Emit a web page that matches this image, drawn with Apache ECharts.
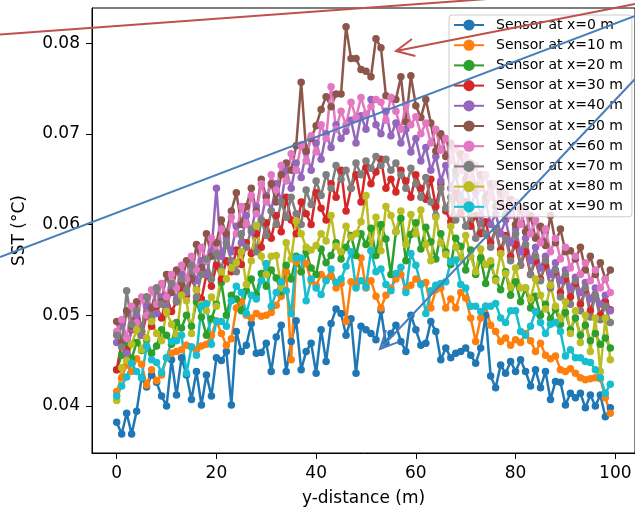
<!DOCTYPE html>
<html>
<head>
<meta charset="utf-8">
<script src="https://cdn.jsdelivr.net/npm/echarts@6/dist/echarts.min.js"></script>
<style>html,body{margin:0;padding:0;background:#fff}#c{width:635px;height:512px}</style>
</head>
<body>
<div id="c"></div>
<script>
const yDistance = [0,1,2,3,4,5,6,7,8,9,10,11,12,13,14,15,16,17,18,19,20,21,22,23,24,25,26,27,28,29,30,31,32,33,34,35,36,37,38,39,40,41,42,43,44,45,46,47,48,49,50,51,52,53,54,55,56,57,58,59,60,61,62,63,64,65,66,67,68,69,70,71,72,73,74,75,76,77,78,79,80,81,82,83,84,85,86,87,88,89,90,91,92,93,94,95,96,97,98,99];
const seriesNames = ['Sensor at x=0 m','Sensor at x=10 m','Sensor at x=20 m','Sensor at x=30 m','Sensor at x=40 m','Sensor at x=50 m','Sensor at x=60 m','Sensor at x=70 m','Sensor at x=80 m','Sensor at x=90 m'];
const xTicks = [0,20,40,60,80,100];
const yTicks = [0.04,0.05,0.06,0.07,0.08];

const sensor0 = [.0382,.0369,.0392,.0369,.0394,.0431,.0421,.0434,.0426,.0411,
.0400,.0451,.0412,.0453,.0434,.0407,.0438,.0401,.0434,.0411,
.0453,.0450,.0460,.0401,.0482,.0460,.0467,.0491,.0458,.0459,
.0469,.0438,.0476,.0489,.0438,.0471,.0494,.0440,.0460,.0469,
.0436,.0484,.0449,.0491,.0507,.0502,.0478,.0496,.0436,.0488,
.0484,.0480,.0473,.0505,.0469,.0480,.0489,.0471,.0460,.0500,
.0484,.0467,.0469,.0493,.0482,.0451,.0464,.0453,.0458,.0460,
.0464,.0456,.0447,.0464,.0500,.0433,.0420,.0445,.0436,.0449,
.0438,.0451,.0438,.0422,.0440,.0420,.0438,.0407,.0427,.0426,
.0401,.0414,.0409,.0414,.0398,.0412,.0400,.0412,.0388,.0398];
const sensor10 = [.0416,.0431,.0445,.0438,.0452,.0446,.0423,.0440,.0428,.0434,
.0453,.0458,.0460,.0462,.0467,.0465,.0462,.0466,.0468,.0478,
.0494,.0480,.0467,.0474,.0508,.0515,.0500,.0497,.0502,.0499,
.0500,.0503,.0511,.0521,.0548,.0451,.0559,.0548,.0557,.0538,
.0533,.0545,.0540,.0543,.0530,.0535,.0493,.0537,.0533,.0563,
.0530,.0538,.0521,.0508,.0522,.0530,.0540,.0545,.0528,.0533,
.0540,.0535,.0536,.0508,.0528,.0530,.0508,.0518,.0508,.0525,
.0519,.0497,.0471,.0497,.0510,.0489,.0482,.0471,.0475,.0467,
.0473,.0470,.0480,.0472,.0460,.0469,.0456,.0452,.0455,.0440,
.0438,.0441,.0436,.0431,.0429,.0430,.0431,.0430,.0409,.0392];
const sensor20 = [.0440,.0456,.0466,.0452,.0470,.0461,.0473,.0458,.0466,.0484,
.0478,.0468,.0492,.0486,.0500,.0488,.0515,.0498,.0478,.0496,
.0512,.0536,.0500,.0522,.0518,.0505,.0527,.0540,.0523,.0546,
.0532,.0550,.0541,.0526,.0555,.0540,.0565,.0548,.0570,.0552,
.0545,.0573,.0558,.0566,.0580,.0562,.0575,.0588,.0566,.0590,
.0578,.0596,.0566,.0600,.0584,.0545,.0592,.0607,.0560,.0589,
.0602,.0573,.0597,.0581,.0562,.0590,.0570,.0556,.0585,.0576,
.0550,.0572,.0545,.0563,.0535,.0556,.0540,.0528,.0548,.0522,
.0537,.0515,.0530,.0508,.0521,.0500,.0512,.0496,.0507,.0490,
.0503,.0484,.0497,.0478,.0489,.0472,.0480,.0468,.0475,.0464];
const sensor30 = [.0440,.0470,.0462,.0484,.0495,.0478,.0500,.0488,.0510,.0497,
.0520,.0504,.0515,.0530,.0522,.0540,.0528,.0518,.0545,.0532,
.0555,.0540,.0560,.0548,.0572,.0556,.0580,.0568,.0590,.0575,
.0602,.0585,.0610,.0592,.0630,.0605,.0590,.0625,.0612,.0600,
.0635,.0618,.0605,.0645,.0630,.0660,.0615,.0640,.0655,.0625,
.0663,.0645,.0658,.0672,.0640,.0650,.0636,.0660,.0648,.0630,
.0655,.0640,.0628,.0650,.0620,.0645,.0615,.0603,.0635,.0612,
.0625,.0598,.0610,.0590,.0603,.0580,.0595,.0572,.0588,.0565,
.0578,.0555,.0570,.0545,.0560,.0540,.0555,.0532,.0548,.0525,
.0540,.0520,.0535,.0512,.0528,.0505,.0522,.0500,.0515,.0506];
const sensor40 = [.0470,.0492,.0458,.0485,.0500,.0478,.0510,.0495,.0502,.0520,
.0508,.0530,.0518,.0545,.0525,.0555,.0538,.0560,.0545,.0570,
.0640,.0565,.0585,.0570,.0598,.0580,.0610,.0592,.0620,.0605,
.0632,.0615,.0645,.0625,.0660,.0640,.0668,.0652,.0680,.0660,
.0690,.0672,.0700,.0685,.0710,.0695,.0703,.0715,.0690,.0720,
.0705,.0738,.0710,.0700,.0725,.0698,.0712,.0690,.0705,.0680,
.0695,.0670,.0685,.0660,.0675,.0648,.0665,.0640,.0655,.0630,
.0645,.0620,.0635,.0610,.0625,.0600,.0612,.0590,.0605,.0580,
.0595,.0570,.0585,.0560,.0575,.0552,.0565,.0545,.0558,.0538,
.0550,.0530,.0542,.0525,.0536,.0518,.0530,.0512,.0522,.0505];
const sensor50 = [.0493,.0470,.0505,.0488,.0515,.0482,.0520,.0508,.0530,.0515,
.0545,.0525,.0550,.0535,.0560,.0540,.0578,.0552,.0590,.0565,
.0580,.0605,.0590,.0615,.0635,.0600,.0620,.0640,.0615,.0650,
.0630,.0645,.0625,.0655,.0668,.0660,.0687,.0757,.0681,.0695,
.0709,.0727,.0741,.0730,.0744,.0744,.0818,.0783,.0783,.0771,
.0769,.0763,.0805,.0795,.0742,.0740,.0738,.0763,.0713,.0764,
.0731,.0718,.0738,.0712,.0681,.0700,.0675,.0690,.0660,.0678,
.0650,.0668,.0640,.0655,.0630,.0645,.0620,.0635,.0610,.0628,
.0600,.0618,.0592,.0610,.0585,.0598,.0577,.0610,.0580,.0595,
.0570,.0571,.0562,.0575,.0550,.0565,.0545,.0558,.0540,.0550];
const sensor60 = [.0482,.0495,.0475,.0510,.0492,.0520,.0500,.0528,.0512,.0535,
.0520,.0545,.0530,.0555,.0540,.0565,.0550,.0575,.0560,.0585,
.0570,.0595,.0580,.0608,.0590,.0620,.0600,.0632,.0612,.0645,
.0625,.0655,.0638,.0665,.0648,.0678,.0660,.0688,.0670,.0698,
.0680,.0710,.0695,.0752,.0705,.0725,.0710,.0735,.0718,.0740,
.0722,.0730,.0738,.0735,.0715,.0740,.0725,.0705,.0732,.0710,
.0719,.0700,.0712,.0690,.0705,.0682,.0695,.0670,.0685,.0660,
.0675,.0650,.0665,.0640,.0655,.0630,.0645,.0620,.0635,.0610,
.0625,.0600,.0615,.0590,.0605,.0580,.0595,.0570,.0585,.0562,
.0575,.0552,.0565,.0545,.0558,.0538,.0550,.0530,.0540,.0525];
const sensor70 = [.0478,.0465,.0527,.0490,.0505,.0482,.0520,.0498,.0530,.0512,
.0505,.0535,.0515,.0540,.0528,.0555,.0520,.0545,.0562,.0540,
.0568,.0550,.0580,.0560,.0548,.0590,.0575,.0595,.0570,.0605,
.0588,.0615,.0600,.0625,.0608,.0630,.0612,.0600,.0638,.0622,
.0648,.0632,.0655,.0640,.0665,.0650,.0660,.0640,.0668,.0655,
.0670,.0662,.0675,.0665,.0672,.0660,.0668,.0655,.0640,.0662,
.0645,.0630,.0652,.0625,.0610,.0640,.0618,.0630,.0605,.0622,
.0598,.0610,.0585,.0602,.0590,.0575,.0595,.0568,.0585,.0560,
.0590,.0555,.0578,.0545,.0565,.0538,.0560,.0530,.0550,.0520,
.0545,.0512,.0538,.0505,.0530,.0498,.0522,.0495,.0510,.0492];
const sensor80 = [.0406,.0442,.0450,.0468,.0484,.0462,.0475,.0493,.0480,.0472,
.0504,.0490,.0478,.0522,.0516,.0480,.0528,.0512,.0505,.0520,
.0510,.0548,.0540,.0552,.0558,.0570,.0534,.0560,.0599,.0565,
.0545,.0565,.0566,.0530,.0580,.0562,.0604,.0590,.0575,.0572,
.0577,.0590,.0582,.0610,.0576,.0570,.0598,.0586,.0590,.0603,
.0632,.0571,.0608,.0571,.0620,.0610,.0592,.0615,.0578,.0611,
.0590,.0616,.0578,.0560,.0608,.0580,.0567,.0598,.0575,.0563,
.0588,.0565,.0548,.0573,.0556,.0560,.0538,.0568,.0546,.0531,
.0552,.0530,.0530,.0518,.0540,.0522,.0507,.0533,.0510,.0496,
.0515,.0480,.0505,.0470,.0500,.0460,.0497,.0438,.0497,.0451];
const sensor90 = [.0411,.0422,.0432,.0447,.0438,.0431,.0466,.0451,.0448,.0437,
.0453,.0471,.0472,.0478,.0436,.0465,.0456,.0510,.0513,.0468,
.0493,.0493,.0488,.0516,.0532,.0525,.0502,.0522,.0518,.0538,
.0557,.0510,.0525,.0537,.0527,.0502,.0563,.0563,.0516,.0540,
.0530,.0523,.0538,.0551,.0536,.0540,.0554,.0570,.0530,.0538,
.0531,.0571,.0548,.0551,.0534,.0527,.0546,.0553,.0525,.0568,
.0555,.0534,.0502,.0527,.0533,.0535,.0537,.0559,.0561,.0534,
.0530,.0510,.0510,.0504,.0510,.0510,.0513,.0497,.0492,.0505,
.0505,.0482,.0478,.0488,.0504,.0492,.0480,.0490,.0492,.0482,
.0455,.0462,.0453,.0453,.0449,.0448,.0440,.0431,.0414,.0424];

const sensorValues = [sensor0,sensor10,sensor20,sensor30,sensor40,sensor50,sensor60,sensor70,sensor80,sensor90];
const colors = ['#1f77b4','#ff7f0e','#2ca02c','#d62728','#9467bd','#8c564b','#e377c2','#7f7f7f','#bcbd22','#17becf'];
const FONT = 'DejaVu Sans';

const chart = echarts.init(document.getElementById('c'), null, {renderer:'canvas'});

function arrow(x1, y1, x2, y2, color, head) {
  const els = [{type:'line', z:100, silent:true, shape:{x1, y1, x2, y2}, style:{stroke:color, lineWidth:2}}];
  if (head) {
    const a = Math.atan2(y1 - y2, x1 - x2), L = 20, s = 0.45;
    els.push({type:'polyline', z:100, silent:true,
      shape:{points:[[x2 + L*Math.cos(a+s), y2 + L*Math.sin(a+s)], [x2, y2], [x2 + L*Math.cos(a-s), y2 + L*Math.sin(a-s)]]},
      style:{stroke:color, lineWidth:2, fill:null}});
  }
  return els;
}

chart.setOption({
  animation: false,
  textStyle: {fontFamily: FONT},
  grid: {left: 92, right: -4, top: 8, bottom: 56, show: true, borderColor: '#000', borderWidth: 1, backgroundColor: 'transparent'},
  legend: {
    orient: 'vertical', left: 449, top: 15,
    padding: [3, 9, 3, 4],
    itemWidth: 30, itemHeight: 14, itemGap: 6.2,
    backgroundColor: 'rgba(255,255,255,0.8)', borderColor: '#cccccc', borderWidth: 1, borderRadius: 3,
    textStyle: {fontFamily: FONT, fontSize: 14, color: '#000', lineHeight: 14, padding: [0,0,0,7]},
    data: seriesNames
  },
  xAxis: {
    type: 'value', min: -4.95, max: 103.95,
    name: 'y-distance (m)', nameLocation: 'middle', nameGap: 37,
    nameTextStyle: {fontFamily: FONT, fontSize: 17, color: '#000'},
    axisLine: {show: true, onZero: false, lineStyle: {color: '#000', width: 1}},
    axisTick: {show: true, length: 6, lineStyle: {color: '#000'}, customValues: xTicks},
    axisLabel: {fontFamily: FONT, fontSize: 17, color: '#000', margin: 12, customValues: xTicks},
    splitLine: {show: false}
  },
  yAxis: {
    type: 'value', min: 0.03481, max: 0.08388,
    name: 'SST (°C)', nameLocation: 'middle', nameGap: 64,
    nameTextStyle: {fontFamily: FONT, fontSize: 17, color: '#000'},
    axisLine: {show: true, onZero: false, lineStyle: {color: '#000', width: 1}},
    axisTick: {show: true, length: 6, lineStyle: {color: '#000'}, customValues: yTicks},
    axisLabel: {fontFamily: FONT, fontSize: 17, color: '#000', margin: 12, customValues: yTicks, formatter: v => v.toFixed(2)},
    splitLine: {show: false}
  },
  series: seriesNames.map((name, k) => ({
    name, type: 'line',
    data: yDistance.map((x, i) => [x, sensorValues[k][i]]),
    symbol: 'circle', symbolSize: 7.5, showSymbol: true,
    lineStyle: {width: 2.5, color: colors[k]},
    itemStyle: {color: colors[k]},
    emphasis: {disabled: true},
    clip: true
  })),
  graphic: [
    ...arrow(0, 34.6, 635, -11.8, '#c0504d', false),
    ...arrow(635, 4, 396, 51, '#c0504d', true),
    ...arrow(0, 257, 635, 16, '#4a7ebb', false),
    ...arrow(635, 79, 380, 349, '#4a7ebb', true)
  ]
});
</script>
</body>
</html>
